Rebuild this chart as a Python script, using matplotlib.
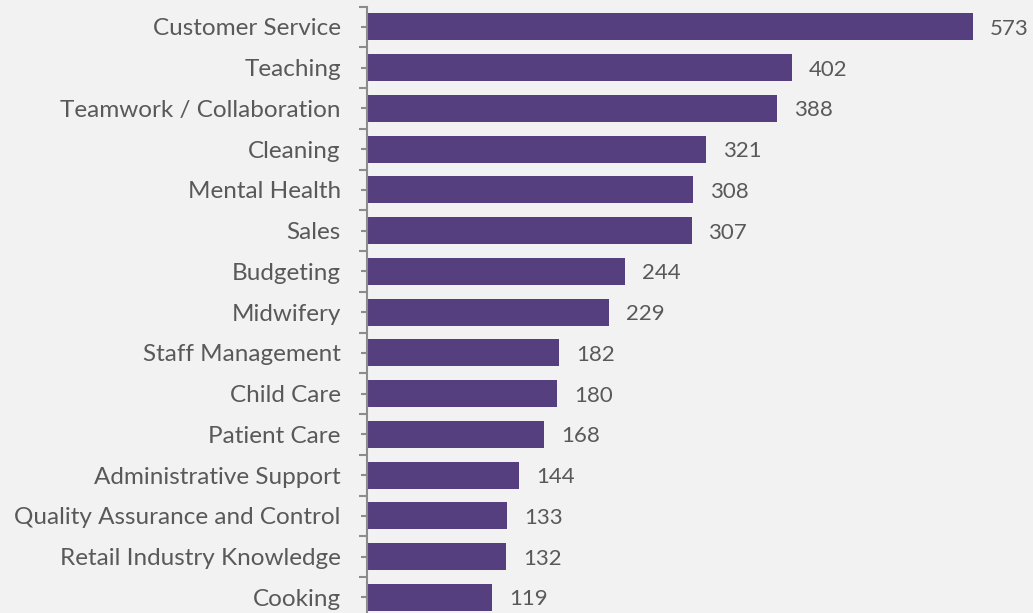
import numpy as np
import matplotlib.pyplot as plt

# Data
skills = ["Customer Service", "Teaching", "Teamwork / Collaboration", "Cleaning",
          "Mental Health", "Sales", "Budgeting", "Midwifery", "Staff Management",
          "Child Care", "Patient Care", "Administrative Support",
          "Quality Assurance and Control", "Retail Industry Knowledge", "Cooking"]
counts = [573, 402, 388, 321, 308, 307, 244, 229, 182, 180, 168, 144, 133, 132, 119]

bar_color = "#563F7E"
text_color = "#595959"
axis_color = "#8C8C8C"
bg = "#F2F2F2"

plt.rcParams['font.family'] = ['Lato', 'DejaVu Sans']

W, H = 1033, 613
fig = plt.figure(figsize=(W / 100, H / 100), dpi=100, facecolor=bg)
# axes: top of axis at y=6.5px, 15 rows of ~40.7px, runs past bottom edge
left_px, top_px, row_px = 366.5, 6.5, 40.75
n = len(skills)
ax_h = n * row_px
ax = fig.add_axes([left_px / W, 1 - (top_px + ax_h) / H, 667 / W, ax_h / H])
ax.set_facecolor(bg)

y = np.arange(n)
ax.barh(y, counts, height=0.66, color=bar_color, zorder=2)
ax.set_ylim(n - 0.5, -0.5)
ax.set_xlim(0, 630)

for yi, v in zip(y, counts):
    ax.text(v + 16, yi + 0.05, str(v), va="center", ha="left",
            fontsize=16, color=text_color)

for s in ["top", "right", "bottom"]:
    ax.spines[s].set_visible(False)
ax.spines["left"].set_color(axis_color)
ax.spines["left"].set_linewidth(1.5)
ax.set_xticks([])

# major ticks at category boundaries, minor ticks (with labels) at centres
ax.set_yticks(np.arange(-0.5, n, 1.0))
ax.set_yticklabels([])
ax.set_yticks(y, minor=True)
ax.set_yticklabels(skills, minor=True)
ax.tick_params(axis="y", which="major", direction="out", length=6,
               width=1.5, color=axis_color)
ax.tick_params(axis="y", which="minor", direction="inout", length=9,
               width=1.5, color=axis_color, pad=14, labelsize=17.5,
               labelcolor=text_color)

fig.savefig("out.png", dpi=100, facecolor=bg)
